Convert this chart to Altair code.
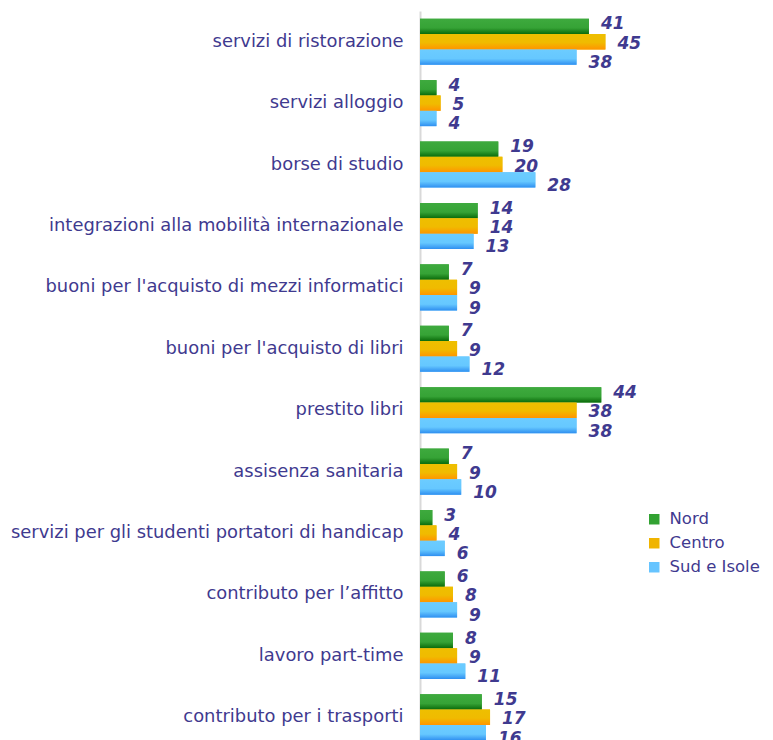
import altair as alt
import pandas as pd

categories = [
    "servizi di ristorazione",
    "servizi alloggio",
    "borse di studio",
    "integrazioni alla mobilità internazionale",
    "buoni per l'acquisto di mezzi informatici",
    "buoni per l'acquisto di libri",
    "prestito libri",
    "assisenza sanitaria",
    "servizi per gli studenti portatori di handicap",
    "contributo per l\u2019affitto",
    "lavoro part-time",
    "contributo per i trasporti",
]
series = ["Nord", "Centro", "Sud e Isole"]
nord = [41, 4, 19, 14, 7, 7, 44, 7, 3, 6, 8, 15]
centro = [45, 5, 20, 14, 9, 9, 38, 9, 4, 8, 9, 17]
sud = [38, 4, 28, 13, 9, 12, 38, 10, 6, 9, 11, 16]

rows = []
for i, c in enumerate(categories):
    for s, vals in zip(series, [nord, centro, sud]):
        rows.append({"cat": c, "series": s, "value": vals[i]})
df = pd.DataFrame(rows)

text_color = "#3f3a8f"
flat_colors = ["#32a232", "#f0b400", "#66c4ff"]
gradients = {
    "Nord": [("#3eaa3e", 0), ("#36a336", 0.6), ("#0a6a0a", 1)],
    "Centro": [("#eebf00", 0), ("#f0bb00", 0.55), ("#ff9500", 1)],
    "Sud e Isole": [("#6cccff", 0), ("#66c8ff", 0.6), ("#2f8ff0", 1)],
}
label_dy = {"Nord": -2, "Centro": 2, "Sud e Isole": 6}

y_enc = alt.Y(
    "cat:N",
    sort=categories,
    scale=alt.Scale(domain=categories, paddingInner=0.25, paddingOuter=0.125),
    axis=alt.Axis(
        title=None, labelLimit=700, labelFontSize=17.9, labelColor=text_color,
        labelFont="DejaVu Sans", ticks=False, domain=True, domainColor="#d9d9d9",
        domainWidth=2, labelPadding=17, grid=False,
    ),
)
yoff = alt.YOffset("series:N", sort=series,
                   scale=alt.Scale(domain=series, paddingInner=0, paddingOuter=0))
x_enc = alt.X("value:Q", scale=alt.Scale(domain=[0, 50]), axis=None)

base = alt.Chart(df)

bars = base.mark_bar().encode(
    y=y_enc, yOffset=yoff, x=x_enc,
    color=alt.Color(
        "series:N",
        scale=alt.Scale(domain=series, range=flat_colors),
        legend=alt.Legend(
            orient="none", legendX=226, legendY=500, title=None,
            symbolType="square", symbolSize=110, labelFontSize=16.5,
            labelColor=text_color, labelFont="DejaVu Sans", rowPadding=7,
            symbolStrokeWidth=0, labelOffset=7,
        ),
    ),
)

layers = [bars]
for s in series:
    grad = {
        "gradient": "linear", "x1": 0, "x2": 0, "y1": 0, "y2": 1,
        "stops": [{"offset": o, "color": c} for c, o in gradients[s]],
    }
    layers.append(
        base.transform_filter(alt.datum.series == s)
        .mark_bar(fill=grad)
        .encode(y=y_enc, yOffset=yoff, x=x_enc)
    )
for s in series:
    layers.append(
        base.transform_filter(alt.datum.series == s)
        .mark_text(align="left", baseline="middle", dx=12, dy=label_dy[s],
                   font="DejaVu Sans", fontSize=17, fontWeight="bold",
                   fontStyle="italic", color=text_color)
        .encode(y=y_enc, yOffset=yoff, x=x_enc, text="value:Q")
    )

chart = (
    alt.layer(*layers)
    .properties(width=206, height=737,
                padding={"left": 2, "top": 3, "right": 0, "bottom": 0})
    .configure_view(stroke=None)
)

chart.save("out.html", embed_options={"renderer": "svg", "actions": False})
